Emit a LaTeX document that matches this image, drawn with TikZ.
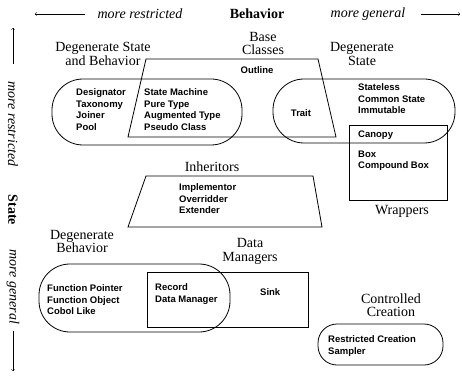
\documentclass[tikz,border=0pt]{standalone}
\usepackage{fontspec}
\setmainfont{Liberation Serif}
\newfontfamily\itemfont{Liberation Sans}
\begin{document}
\begin{tikzpicture}[x=1pt,y=-1pt,>=to,
  lab/.style={font=\fontsize{14}{13.5}\selectfont,align=center,inner sep=0pt},
  axis/.style={font=\fontsize{14}{14}\selectfont\itshape,inner sep=0pt},
  item/.style={font=\itemfont\bfseries\fontsize{9.5}{11.7}\selectfont,align=left,anchor=north west,inner sep=0pt},
  edge/.style={line width=0.8pt}]
\useasboundingbox (0,0) rectangle (462,382);

\node[axis] (mrb) at (140,14) {more restricted};
\node[inner sep=0pt,font=\fontsize{14}{14}\selectfont\bfseries] (beh) at (257,14) {Behavior};
\node[axis] (mgb) at (368,14) {more general};
\coordinate (bl) at (35,14);
\coordinate (br) at (460,14);
\draw[->,shorten <=12pt] (mrb) -- (bl);
\draw[->,shorten <=16pt] (mgb) -- (br);

\node[axis,rotate=-90] (mrs) at (13,124) {more restricted};
\node[inner sep=0pt,rotate=-90,font=\fontsize{14}{14}\selectfont\bfseries] (sta) at (13,210) {State};
\node[axis,rotate=-90] (mgs) at (13,287) {more general};
\coordinate (st) at (13,28);
\coordinate (sb) at (13,371);
\draw[->,shorten <=17pt] (mrs) -- (st);
\draw[->,shorten <=7pt] (mgs) -- (sb);

\draw[edge] (146,59) -- (318,59) -- (336,137) -- (128,137) -- cycle;
\draw[edge,rounded corners=31pt] (52,79) rectangle (242,145);
\draw[edge,rounded corners=31pt] (273,79) rectangle (455,143);
\draw[edge] (349,125) rectangle (447,200);
\draw[edge] (146,176) -- (313,176) -- (322,227) -- (128,227) -- cycle;
\draw[edge,rounded corners=31pt] (39,264) rectangle (230,332);
\draw[edge] (147,272) rectangle (308,327);
\draw[edge,rounded corners=19pt] (318,324) rectangle (443,365);

\node[lab] (dsb) at (103,54) {Degenerate State\\and Behavior};
\node[lab] (base) at (263,43.5) {Base\\Classes};
\node[lab] (ds) at (362,54) {Degenerate\\State};
\node[lab] (inh) at (212,167) {Inheritors};
\node[lab] (wrap) at (402,211) {Wrappers};
\node[lab] (db) at (82,241.5) {Degenerate\\Behavior};
\node[lab] (dm) at (250,251.5) {Data\\Managers};
\node[lab] (cc) at (391,305) {Controlled\\Creation};

\node[item,anchor=center] (outline) at (257,70) {Outline};
\node[item] (desig) at (76,88.5) {Designator\\Taxonomy\\Joiner\\Pool};
\node[item] (smach) at (144,88.5) {State Machine\\Pure Type\\Augmented Type\\Pseudo Class};
\node[item,anchor=center] (trait) at (301,113) {Trait};
\node[item] (stateless) at (358,83.5) {Stateless\\Common State\\Immutable};
\node[item] (canopy) at (358,130.5) {Canopy};
\node[item] (box) at (358,150.5) {Box\\Compound Box};
\node[item] (impl) at (179,183.5) {Implementor\\Overridder\\Extender};
\node[item] (fptr) at (47,284.5) {Function Pointer\\Function Object\\Cobol Like};
\node[item] (record) at (155,283.5) {Record\\Data Manager};
\node[item] (sink) at (260,288.5) {Sink};
\node[item] (restr) at (328,335.5) {Restricted Creation\\Sampler};
\end{tikzpicture}
\end{document}
